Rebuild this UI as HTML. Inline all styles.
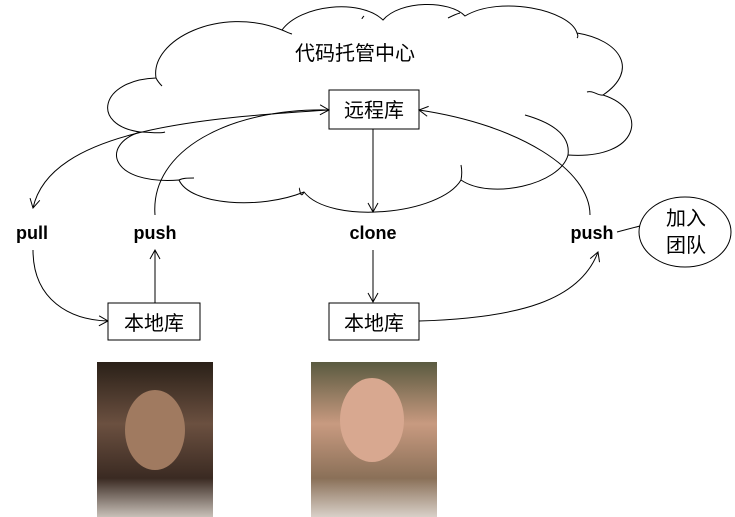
<!DOCTYPE html>
<html><head><meta charset="utf-8"><style>
body{margin:0;background:#fff;width:735px;height:517px;overflow:hidden}
svg{display:block}
text{font-family:"Liberation Sans","Noto Sans CJK SC",sans-serif}
</style></head><body>
<svg width="735" height="517" viewBox="0 0 735 517">
<defs>
<marker id="a" markerWidth="12" markerHeight="12" refX="10" refY="6" orient="auto" markerUnits="userSpaceOnUse">
<path d="M1,1 L10,6 L1,11" fill="none" stroke="#000" stroke-width="1"/></marker>
<linearGradient id="p1" x1="0" y1="0" x2="0" y2="1"><stop offset="0" stop-color="#2a2018"/><stop offset="0.4" stop-color="#6b5040"/><stop offset="0.75" stop-color="#3a2a22"/><stop offset="1" stop-color="#c8c0b8"/></linearGradient>
<linearGradient id="p2" x1="0" y1="0" x2="0" y2="1"><stop offset="0" stop-color="#5a5a40"/><stop offset="0.4" stop-color="#c89a80"/><stop offset="0.75" stop-color="#8a7058"/><stop offset="1" stop-color="#d8d0c8"/></linearGradient>
</defs>
<g fill="#fff" stroke="#000" stroke-width="1">
<path d="M156,78 C150,40 220,5 282,30 C300,5 360,-2 383,20 C400,0 450,0 465,16 C500,-5 570,10 577,33 C620,40 640,70 603,95 C650,110 640,160 568,155 C560,185 490,200 461,180 C440,215 330,225 304,192 C260,210 190,205 179,180 C110,185 100,145 140,132 C90,125 100,80 156,78 Z"/>
</g>
<g fill="none" stroke="#000" stroke-width="1">
<path d="M156,78 C158,82 160,84 162,86"/>
<path d="M282,30 C285,31 288,33 292,34"/>
<path d="M140,132 C150,132 160,134 165,132"/>
<path d="M179,180 C183,178 188,178 194,178"/>
<path d="M304,192 C300,200 300,188 299,188"/>
<path d="M461,180 C462,175 462,170 461,165"/>
<path d="M568,155 C570,140 560,125 525,115"/>
<path d="M603,95 C598,96 593,90 587,92"/>
<path d="M577,33 C578,35 578,37 577,38"/>
<path d="M362,19 C362,18 363,17 364,16"/>
<path d="M448,18 C452,16 456,14 460,13"/>
</g>
<text x="355" y="60" font-size="20" text-anchor="middle">代码托管中心</text>
<rect x="329" y="90" width="90" height="39" fill="#fff" stroke="#000"/>
<text x="374" y="117" font-size="20" text-anchor="middle">远程库</text>
<g fill="none" stroke="#000" stroke-width="1">
<path d="M329,110 C200,118 50,130 33,208" marker-end="url(#a)"/>
<path d="M155,215 C150,150 230,108 329,110" marker-end="url(#a)"/>
<path d="M590,215 C590,170 520,125 419,110" marker-end="url(#a)"/>
<path d="M373,129 L373,212" marker-end="url(#a)"/>
<path d="M33,250 C33,300 70,320 108,321" marker-end="url(#a)"/>
<path d="M155,303 L155,250" marker-end="url(#a)"/>
<path d="M373,250 L373,302" marker-end="url(#a)"/>
<path d="M419,321 C520,318 580,300 598,252" marker-end="url(#a)"/>
<path d="M617,232 L640,226"/>
</g>
<g font-size="18" font-weight="bold" text-anchor="middle">
<text x="32" y="239">pull</text>
<text x="155" y="239">push</text>
<text x="373" y="239">clone</text>
<text x="592" y="239">push</text>
</g>
<ellipse cx="685" cy="232" rx="46" ry="35" fill="#fff" stroke="#000"/>
<text x="686" y="225" font-size="20" text-anchor="middle">加入</text>
<text x="686" y="252" font-size="20" text-anchor="middle">团队</text>
<rect x="108" y="303" width="92" height="37" fill="#fff" stroke="#000"/>
<text x="154" y="330" font-size="20" text-anchor="middle">本地库</text>
<rect x="329" y="303" width="90" height="37" fill="#fff" stroke="#000"/>
<text x="374" y="330" font-size="20" text-anchor="middle">本地库</text>
<rect x="97" y="362" width="116" height="155" fill="url(#p1)"/>
<ellipse cx="155" cy="430" rx="30" ry="40" fill="#a07a60"/>
<rect x="311" y="362" width="126" height="155" fill="url(#p2)"/>
<ellipse cx="372" cy="420" rx="32" ry="42" fill="#d8a890"/>
</svg>
</body></html>
